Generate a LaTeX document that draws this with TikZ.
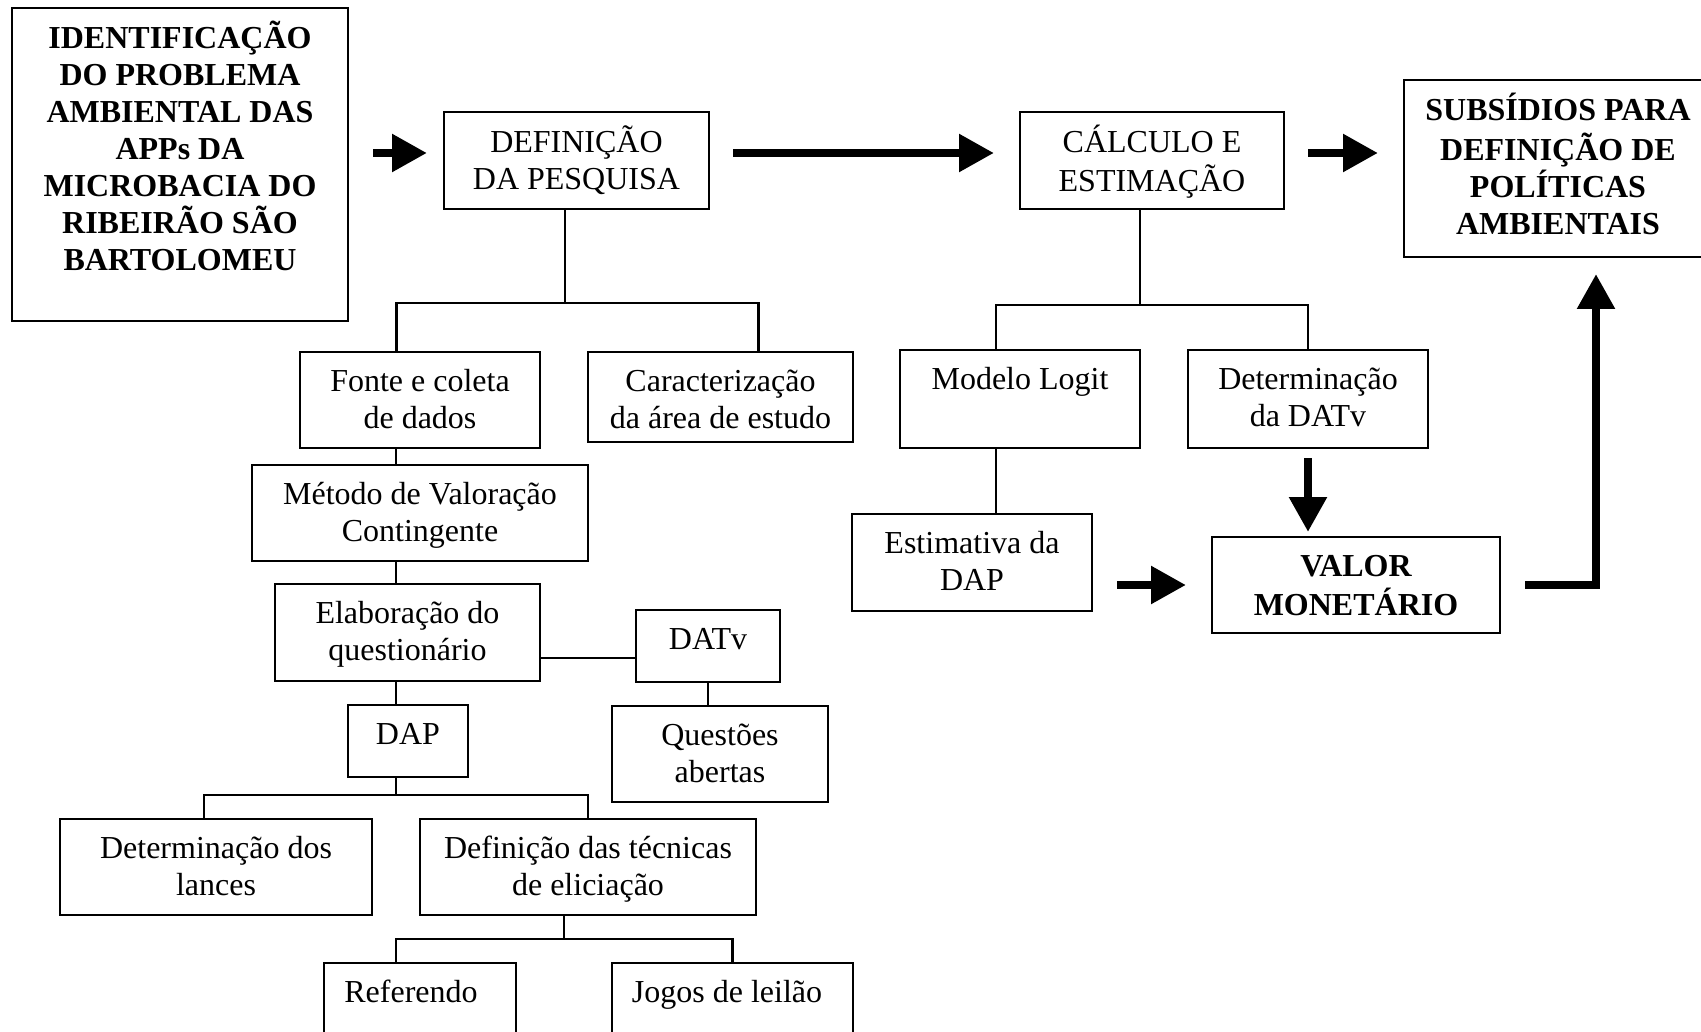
\documentclass[tikz,border=0pt]{standalone}
\usepackage{fontspec}
\setmainfont{Liberation Serif}
\usetikzlibrary{arrows.meta,calc}
\tikzset{
  box/.style={draw, line width=2pt, inner sep=0pt, rectangle},
  txt/.style={align=center, inner sep=0pt, anchor=north, font=\fontsize{32}{37}\selectfont},
  btxt/.style={txt, font=\fontsize{32}{37}\selectfont\bfseries},
  reftxt/.style={txt, xshift=-9pt},
  jogtxt/.style={txt, xshift=-5.5pt},
  link/.style={line width=2.2pt},
  fat/.style={line width=8.5pt, line join=miter, -{Triangle[length=35pt,width=36pt]}},
}
% #1 text style, #2 name, #3 x1, #4 y1, #5 x2, #6 y2, #7 text
\newcommand{\abox}[7]{%
  \node[box, minimum width={#5pt-#3pt}, minimum height={#6pt-#4pt}] (#2) at ({(#3+#5)/2},{(#4+#6)/2}) {};
  \node[#1, yshift=-14.1pt] (#2-t) at (#2.north) {\strut #7};
}
\begin{document}
\begin{tikzpicture}[x=1pt, y=-1pt]
\clip (0,0) rectangle (1701,1032);
\fill[white] (0,0) rectangle (1701,1032);

\abox{btxt}{id}{12}{8}{348}{321}{IDENTIFICAÇÃO\\DO PROBLEMA\\AMBIENTAL DAS\\APPs DA\\MICROBACIA DO\\RIBEIRÃO SÃO\\BARTOLOMEU}
\abox{txt}{def}{444}{112}{709}{209}{DEFINIÇÃO\\DA PESQUISA}
\abox{txt}{calc}{1020}{112}{1284}{209}{CÁLCULO E\\ESTIMAÇÃO}
\abox{btxt}{sub}{1404}{80}{1712}{257}{SUBSÍDIOS PARA\\DEFINIÇÃO DE\\POLÍTICAS\\AMBIENTAIS}
\abox{txt}{fonte}{300}{352}{540}{448}{Fonte e coleta\\de dados}
\abox{txt}{car}{588}{352}{853}{442}{Caracterização\\da área de estudo}
\abox{txt}{logit}{900}{350}{1140}{448}{Modelo Logit}
\abox{txt}{detv}{1188}{350}{1428}{448}{Determinação\\da DATv}
\abox{txt}{met}{252}{465}{588}{561}{Método de Valoração\\Contingente}
\abox{txt}{est}{852}{514}{1092}{611}{Estimativa da\\DAP}
\abox{btxt}{valor}{1212}{537}{1500}{633}{VALOR\\MONETÁRIO}
\abox{txt}{elab}{275}{584}{540}{681}{Elaboração do\\questionário}
\abox{txt}{datv}{636}{610}{780}{682}{DATv}
\abox{txt}{dap}{348}{705}{468}{777}{DAP}
\abox{txt}{quest}{612}{706}{828}{802}{Questões\\abertas}
\abox{txt}{lances}{60}{819}{372}{915}{Determinação dos\\lances}
\abox{txt}{tec}{420}{819}{756}{915}{Definição das técnicas\\de eliciação}
\abox{reftxt}{ref}{324}{963}{516}{1070}{Referendo}
\abox{jogtxt}{jogos}{612}{963}{853}{1070}{Jogos de leilão}

% thin tree connectors
\coordinate (jdef) at (565,303);
\draw[link] ([xshift=-11.5pt]def.south) -- (jdef);
\draw[link] ([xshift=-23.5pt]fonte.north) |- (jdef) -| ([xshift=38pt]car.north);
\draw[link] ([xshift=-24pt]fonte.south) -- ([xshift=-24pt]met.north);
\draw[link] ([xshift=-24pt]met.south) -- ([xshift=-11.5pt]elab.north);
\draw[link] ([xshift=-11.5pt]elab.south) -- ([xshift=-12pt]dap.north);
\draw[link] ([yshift=-25.5pt]elab.east) -- ([yshift=-25.5pt]elab.east -| datv.west);
\draw[link] (datv.south) -- (datv.south |- quest.north);
\coordinate (jdap) at (396,795);
\draw[link] ([xshift=-12pt]dap.south) -- (jdap);
\draw[link] ([xshift=-12pt]lances.north) |- (jdap) -| (tec.north);
\coordinate (jtec) at (564,939);
\draw[link] ([xshift=-24pt]tec.south) -- (jtec);
\draw[link] ([xshift=-24pt]ref.north) |- (jtec) -| (jogos.north);
\coordinate (jcalc) at (1140,305);
\draw[link] ([xshift=-12pt]calc.south) -- (jcalc);
\draw[link] ([xshift=-24pt]logit.north) |- (jcalc) -| (detv.north);
\draw[link] ([xshift=-24pt]logit.south) -- ([xshift=-24pt]logit.south |- est.north);

% thick arrows
\coordinate (row) at (0,153);
\draw[fat, shorten <=24pt, shorten >=16pt] (id.east |- row) -- (def.west |- row);
\draw[fat, shorten <=23pt, shorten >=25pt] (def.east |- row) -- (calc.west |- row);
\draw[fat, shorten <=23pt, shorten >=25pt] (calc.east |- row) -- (sub.west |- row);
\draw[fat, shorten <=9pt, shorten >=4pt] (detv.south) -- (detv.south |- valor.north);
\draw[fat, shorten <=24pt, shorten >=25pt] (valor.west -| est.east) -- (valor.west);
\coordinate (turn) at (1596,585);
\draw[fat, shorten <=24pt, shorten >=16pt] (valor.east) -| (sub.south -| turn);
\end{tikzpicture}
\end{document}
